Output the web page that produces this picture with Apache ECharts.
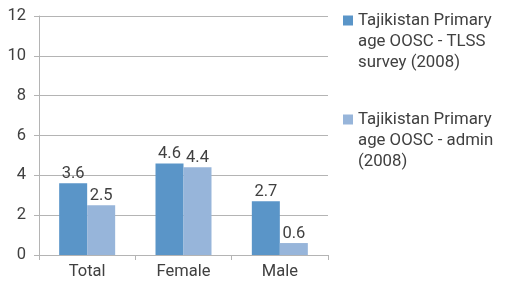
<!DOCTYPE html>
<html>
<head>
<meta charset="utf-8">
<script src="https://cdn.jsdelivr.net/npm/echarts@6/dist/echarts.min.js"></script>
<style>
	html, body { margin: 0; padding: 0; background: #fff; }
	#chartBox { width: 507px; height: 281px; }
</style>
</head>
<body>
<div id="chartBox"></div>
<script>
// categories and values
var categories = ['Total', 'Female', 'Male'];
var surveyName = 'Tajikistan Primary age OOSC - TLSS survey (2008)';
var adminName = 'Tajikistan Primary age OOSC - admin (2008)';
var surveyValues = [3.6, 4.6, 2.7];
var adminValues = [2.5, 4.4, 0.6];
var yTicks = [0, 2, 4, 6, 8, 10, 12];

// legend text is wrapped like the original (two blank lines on top so the icon sits on line one)
var legendLines = {};
legendLines[surveyName] = '\n\nTajikistan Primary\nage OOSC - TLSS\nsurvey (2008)';
legendLines[adminName] = '\n\nTajikistan Primary\nage OOSC - admin\n(2008)';

var textColor = '#404040';
var lineColor = '#b4b4b4';
var fontName = 'Roboto';

var myChart = echarts.init(document.getElementById('chartBox'));
myChart.setOption({
	animation: false,
	textStyle: { fontFamily: fontName },
	grid: {
		left: 39,
		top: 16,
		right: 179,
		bottom: 26
	},
	legend: {
		orient: 'vertical',
		left: 343,
		top: -32,
		padding: 0,
		itemWidth: 10,
		itemHeight: 10,
		itemGap: -6,
		icon: 'rect',
		formatter: function (name) {
			return legendLines[name];
		},
		textStyle: {
			color: textColor,
			fontSize: 16.8,
			lineHeight: 21
		}
	},
	xAxis: {
		type: 'category',
		data: categories,
		axisLine: { lineStyle: { color: lineColor, width: 1 } },
		axisTick: { show: true, length: 5, lineStyle: { color: lineColor } },
		axisLabel: { color: textColor, fontSize: 16.5, margin: 8 }
	},
	yAxis: {
		type: 'value',
		min: yTicks[0],
		max: yTicks[yTicks.length - 1],
		interval: 2,
		axisLine: { show: true, lineStyle: { color: lineColor, width: 1 } },
		axisTick: { show: true, length: 5, lineStyle: { color: lineColor } },
		splitLine: { lineStyle: { color: lineColor, width: 1 } },
		axisLabel: { color: textColor, fontSize: 16.5, margin: 13 }
	},
	series: [
		{
			name: surveyName,
			type: 'bar',
			data: surveyValues,
			barWidth: 28,
			barGap: '0%',
			itemStyle: { color: '#5a95c8' },
			label: { show: true, position: 'top', color: textColor, fontSize: 16.5, distance: 1 }
		},
		{
			name: adminName,
			type: 'bar',
			data: adminValues,
			barWidth: 28,
			barGap: '0%',
			itemStyle: { color: '#97b5da' },
			label: { show: true, position: 'top', color: textColor, fontSize: 16.5, distance: 1 }
		}
	]
});
</script>
</body>
</html>
